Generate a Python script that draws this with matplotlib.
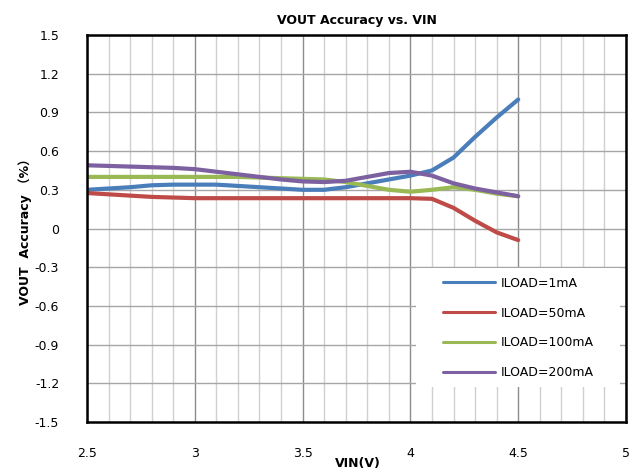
import matplotlib
matplotlib.use("Agg")
import matplotlib.pyplot as plt
from matplotlib.patches import Rectangle
import numpy as np

vin = [2.5, 2.6, 2.7, 2.8, 2.9, 3.0, 3.1, 3.2, 3.3, 3.4, 3.5,
       3.6, 3.7, 3.8, 3.9, 4.0, 4.1, 4.2, 4.3, 4.4, 4.5]
i1ma = [0.30, 0.31, 0.32, 0.335, 0.34, 0.34, 0.34, 0.33, 0.32, 0.31, 0.30,
        0.30, 0.32, 0.35, 0.38, 0.41, 0.45, 0.55, 0.71, 0.86, 1.00]
i50ma = [0.275, 0.265, 0.255, 0.245, 0.24, 0.235, 0.235, 0.235, 0.235, 0.235, 0.235,
         0.235, 0.235, 0.235, 0.235, 0.235, 0.23, 0.16, 0.06, -0.03, -0.09]
i100ma = [0.40, 0.40, 0.40, 0.40, 0.40, 0.40, 0.40, 0.40, 0.395, 0.39, 0.385,
          0.38, 0.36, 0.33, 0.30, 0.285, 0.30, 0.32, 0.30, 0.27, 0.25]
i200ma = [0.49, 0.485, 0.48, 0.475, 0.47, 0.46, 0.44, 0.42, 0.40, 0.38, 0.365,
          0.36, 0.37, 0.40, 0.43, 0.44, 0.41, 0.35, 0.31, 0.28, 0.25]
labels = ["ILOAD=1mA", "ILOAD=50mA", "ILOAD=100mA", "ILOAD=200mA"]
colors = ["#4A7EBB", "#BE4B48", "#98B954", "#7D60A0"]

plt.rcParams['font.family'] = ['DejaVu Sans', 'Noto Sans CJK SC']
W, H = 634, 473
fig = plt.figure(figsize=(W / 100, H / 100), dpi=100)
ax = fig.add_axes([87/W, 51/H, 539/W, 387/H])
ax.set_axisbelow(True)

for ys, lab, c in zip([i1ma, i50ma, i100ma, i200ma], labels, colors):
    ax.plot(vin, ys, color=c, lw=3.0, label=lab, solid_capstyle='round', zorder=3)

ax.set_xlim(2.5, 5)
ax.set_ylim(-1.5, 1.5)
ax.set_xticks(np.arange(2.5, 5.01, 0.5))
ax.set_xticklabels(["2.5", "3", "3.5", "4", "4.5", "5"])
ax.set_xticks(np.arange(2.5, 5.01, 0.1), minor=True)
yt = np.arange(-1.5, 1.51, 0.3)
ax.set_yticks(yt)
ax.set_yticklabels(["-1.5", "-1.2", "-0.9", "-0.6", "-0.3", "0", "0.3", "0.6", "0.9", "1.2", "1.5"])
ax.grid(which='major', axis='x', color='#8c8c8c', lw=1.0)
ax.grid(which='minor', axis='x', color='#d0d0d0', lw=1.0)
ax.grid(which='major', axis='y', color='#a6a6a6', lw=1.0)
ax.tick_params(axis='both', which='both', length=0)
ax.tick_params(axis='x', pad=18, labelsize=9)
ax.tick_params(axis='y', pad=20, labelsize=9)
for s in ax.spines.values():
    s.set_linewidth(1.8)
    s.set_color('black')
    s.set_zorder(5)

ax.set_title("VOUT Accuracy vs. VIN", fontsize=9, fontweight='bold', pad=8)
fig.text(358/W, 1 - 463/H, "VIN(V)", fontsize=9, fontweight='bold', ha='center', va='center')
fig.text(25/W, 1 - 229/H, "VOUT  Accuracy （%）", fontsize=9, fontweight='bold',
         rotation=90, ha='center', va='center')

# white legend background
ax.add_patch(Rectangle((0.610, 0.0904), 0.379, 0.308, transform=ax.transAxes,
                       facecolor='white', edgecolor='none', zorder=2.5))
leg = ax.legend(loc='center', bbox_to_anchor=(518/W, 1 - 328/H),
                bbox_transform=fig.transFigure, frameon=False,
                fontsize=9, handlelength=4.2, labelspacing=1.35, borderpad=0.0,
                handletextpad=0.4)
leg.set_zorder(6)
for l in leg.get_lines():
    l.set_linewidth(2.2)

fig.savefig("out.png", dpi=100)
